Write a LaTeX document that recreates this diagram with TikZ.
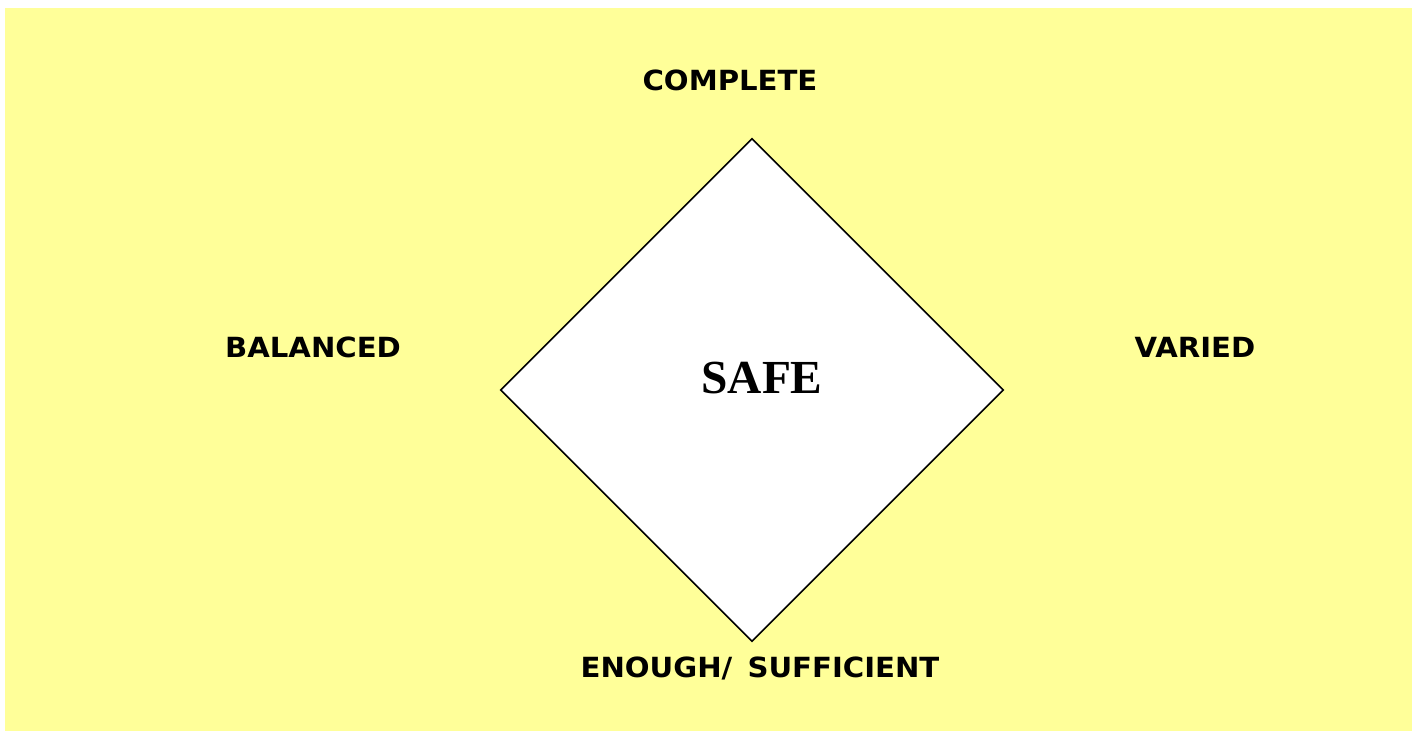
\documentclass[tikz,border=0pt]{standalone}
\usepackage{fontspec}
\usepackage{tikz}
\usetikzlibrary{positioning,shapes.geometric}
\newfontfamily\labelfont[FakeStretch=1.05, WordSpace=1.5]{DejaVu Sans}
\newfontfamily\corefont{Liberation Serif}
\definecolor{padyellow}{HTML}{FFFF99}
\tikzset{
  fd/pad/.style={fill=padyellow, draw=none},
  fd/frame/.style={draw, diamond, aspect=1, fill=white, line width=0.9pt, inner sep=0pt, minimum width=503*0.02cm, minimum height=503*0.02cm},
  fd/core/.style={font=\corefont\bfseries\fontsize{27}{30}\selectfont, inner sep=0pt, anchor=base},
  fd/label/.style={font=\labelfont\bfseries\fontsize{15.8}{18}\selectfont, inner sep=0pt, anchor=base}
}

\begin{document}
\begin{tikzpicture}[x=0.02cm, y=-0.02cm]
  \useasboundingbox (0,0) rectangle (1416,731);
  \fill[fd/pad] (5,8) rectangle (1412,731);

  \node[fd/frame] (frame) at (752,390) {};
  \node[fd/core] (safe) at (762,393) {SAFE};

  \node[fd/label] (complete) at (730,90) {COMPLETE};
  \node[fd/label] (balanced) at (313,357) {BALANCED};
  \node[fd/label] (varied) at (1195,357) {VARIED};
  \node[fd/label] (enough) at (760,677) {ENOUGH/ SUFFICIENT};
\end{tikzpicture}
\end{document}
